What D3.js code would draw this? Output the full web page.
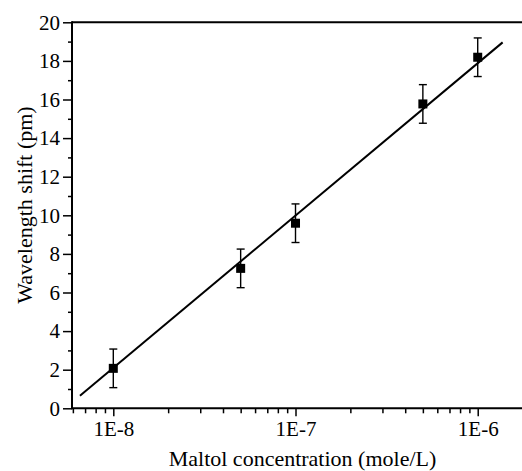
<!DOCTYPE html>
<html>
<head>
<meta charset="utf-8">
<script src="https://cdn.jsdelivr.net/npm/d3@7"></script>
<style>
  html, body { margin: 0; padding: 0; background: #fff; }
  svg { display: block; }
</style>
</head>
<body>
<svg id="chart" width="522" height="471"></svg>
<script>
// Maltol concentration (mol/L) and measured wavelength shift (pm)
const concentrations = [1e-8, 5e-8, 1e-7, 5e-7, 1e-6];
const shifts = [2.07, 7.25, 9.59, 15.77, 18.19];
const shiftErrors = [1.0, 1.0, 1.0, 1.0, 1.0];

// Linear fit against log concentration, drawn between these end points
const fitConcentrations = [6.56e-9, 1.37e-6];
const fitShifts = [0.65, 18.96];

// Axis ticks
const xMajorTicks = [1e-8, 1e-7, 1e-6];
const xMajorLabels = ["1E-8", "1E-7", "1E-6"];
const xMinorTicks = [6e-9, 7e-9, 8e-9, 9e-9,
  2e-8, 3e-8, 4e-8, 5e-8, 6e-8, 7e-8, 8e-8, 9e-8,
  2e-7, 3e-7, 4e-7, 5e-7, 6e-7, 7e-7, 8e-7, 9e-7];
const yMajorTicks = [0, 2, 4, 6, 8, 10, 12, 14, 16, 18, 20];
const yMinorTicks = [1, 3, 5, 7, 9, 11, 13, 15, 17, 19];

const FONT = '"Liberation Serif", "Times New Roman", serif';
const tickFont = 21;
const titleFont = 22;

const svg = d3.select("#chart");
const plotLeft = 72, plotRight = 522, plotTop = 22.3, plotBottom = 408.3;

const x = d3.scaleLog().domain([5.934e-9, 1.75e-6]).range([plotLeft, plotRight]);
const y = d3.scaleLinear().domain([0, 20]).range([plotBottom, plotTop]);

// Bottom axis: major ticks with labels, minor ticks without
const gxMinor = svg.append("g").attr("transform", `translate(0,${plotBottom})`)
  .call(d3.axisBottom(x).tickValues(xMinorTicks).tickSize(5).tickFormat(""));
const gx = svg.append("g").attr("transform", `translate(0,${plotBottom})`)
  .call(d3.axisBottom(x).tickValues(xMajorTicks).tickSize(8).tickPadding(5)
    .tickFormat((d, i) => xMajorLabels[i]));

// Left axis
const gyMinor = svg.append("g").attr("transform", `translate(${plotLeft},0)`)
  .call(d3.axisLeft(y).tickValues(yMinorTicks).tickSize(4).tickFormat(""));
const gy = svg.append("g").attr("transform", `translate(${plotLeft},0)`)
  .call(d3.axisLeft(y).tickValues(yMajorTicks).tickSize(9).tickPadding(3)
    .tickFormat(d3.format("d")));

[gx, gxMinor, gy, gyMinor].forEach(g => {
  g.attr("font-family", null).attr("font-size", null);
  g.selectAll(".domain").remove();
  g.selectAll(".tick line").attr("stroke", "#000").attr("stroke-width", 1.5);
  g.selectAll(".tick text")
    .style("font-family", FONT).style("font-size", tickFont + "px").attr("fill", "#000");
});

// Frame lines: bottom, left and top
svg.append("line").attr("x1", plotLeft).attr("x2", plotRight).attr("y1", plotBottom).attr("y2", plotBottom)
  .attr("stroke", "#000").attr("stroke-width", 2);
svg.append("line").attr("x1", plotLeft).attr("x2", plotRight).attr("y1", plotTop).attr("y2", plotTop)
  .attr("stroke", "#000").attr("stroke-width", 2);
svg.append("line").attr("x1", plotLeft).attr("x2", plotLeft).attr("y1", plotTop - 1).attr("y2", plotBottom + 1)
  .attr("stroke", "#000").attr("stroke-width", 2);

// Fit line
const fitData = fitConcentrations.map((c, i) => [c, fitShifts[i]]);
svg.append("path")
  .datum(fitData)
  .attr("d", d3.line().x(d => x(d[0])).y(d => y(d[1])))
  .attr("fill", "none").attr("stroke", "#000").attr("stroke-width", 2);

// Error bars and markers
const pts = concentrations.map((c, i) => ({ c, v: shifts[i], e: shiftErrors[i] }));
const capHalf = 4;
const eb = svg.append("g").attr("stroke", "#000").attr("stroke-width", 1.4);
pts.forEach(p => {
  const cx = x(p.c);
  eb.append("line").attr("x1", cx).attr("x2", cx).attr("y1", y(p.v - p.e)).attr("y2", y(p.v + p.e));
  eb.append("line").attr("x1", cx - capHalf).attr("x2", cx + capHalf).attr("y1", y(p.v + p.e)).attr("y2", y(p.v + p.e));
  eb.append("line").attr("x1", cx - capHalf).attr("x2", cx + capHalf).attr("y1", y(p.v - p.e)).attr("y2", y(p.v - p.e));
});
const size = 9;
svg.append("g").selectAll("rect").data(pts).join("rect")
  .attr("x", d => x(d.c) - size / 2).attr("y", d => y(d.v) - size / 2)
  .attr("width", size).attr("height", size).attr("fill", "#000");

// Axis titles
svg.append("text")
  .attr("x", 302.5).attr("y", 466)
  .attr("text-anchor", "middle")
  .style("font-family", FONT).style("font-size", titleFont + "px")
  .text("Maltol concentration (mole/L)");
svg.append("text")
  .attr("transform", "translate(32,205) rotate(-90)")
  .attr("text-anchor", "middle")
  .style("font-family", FONT).style("font-size", titleFont + "px")
  .text("Wavelength shift (pm)");
</script>
</body>
</html>
